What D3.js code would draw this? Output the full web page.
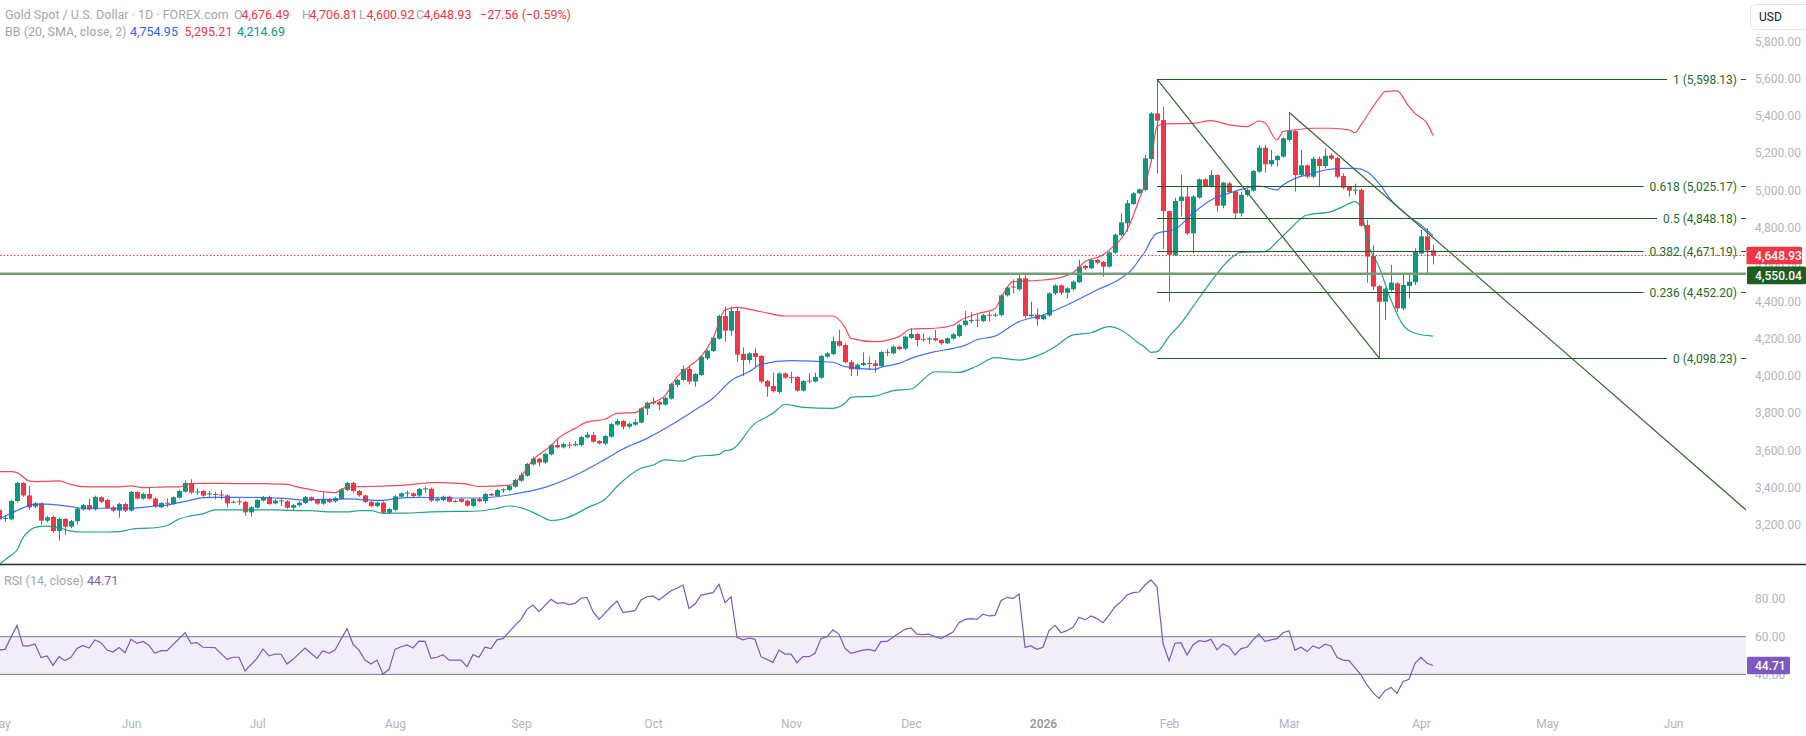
<!DOCTYPE html>
<html>
<head>
<meta charset="utf-8">
<script src="https://cdn.jsdelivr.net/npm/d3@7"></script>
<style>
  body { margin: 0; background: #fff; }
  svg { display: block; font-family: Roboto, "Noto Sans", sans-serif; }
</style>
</head>
<body>
<svg id="chart" width="1806" height="736"></svg>
<script>
// daily candles, bar 0 = 1 May 2025 ... bar 239 = last bar (Apr 2026)
const opens = [3279,3232,3228,3327,3424,3357,3297,3314,3221,3241,3165,3230,3189,3218,3282,3305,3282,3347,3332,3293,
3275,3311,3275,3375,3340,3365,3340,3293,3318,3311,3345,3377,3424,3375,3381,3365,3365,3362,3357,3320,
3325,3322,3266,3291,3329,3349,3314,3330,3325,3291,3304,3316,3347,3336,3313,3336,3325,3339,3386,3424,
3381,3357,3323,3300,3318,3264,3279,3350,3370,3368,3356,3393,3393,3329,3332,3350,3327,3338,3329,3300,
3338,3327,3365,3354,3386,3386,3404,3436,3463,3524,3555,3534,3578,3628,3616,3630,3627,3628,3669,3682,
3650,3636,3673,3738,3758,3727,3738,3749,3824,3853,3860,3846,3878,3952,3979,4038,3970,4005,4095,4134,
4201,4323,4244,4350,4119,4086,4124,4108,3973,3946,3914,4014,3995,3995,3921,3975,3970,3991,4104,4118,
4188,4167,4075,4036,4059,4070,4068,4054,4130,4122,4158,4147,4205,4226,4198,4196,4203,4194,4176,4201,
4216,4275,4295,4303,4296,4330,4326,4328,4434,4482,4467,4526,4322,4330,4306,4326,4445,4488,4449,4468,
4505,4593,4580,4625,4614,4589,4664,4759,4822,4926,4984,5002,5168,5414,5378,4888,4652,4942,4966,4768,
4960,5059,5019,5082,4917,5037,4993,4876,4975,4998,5100,5229,5140,5163,5181,5271,5319,5082,5134,5073,
5170,5131,5188,5174,5077,5019,5000,5002,4813,4646,4484,4400,4463,4499,4364,4485,4505,4660,4752,4676.49];
const highs = [3285,3252,3332,3430,3428,3408,3322,3320,3246,3250,3236,3236,3226,3292,3312,3338,3356,3352,3338,3300,
3318,3318,3381,3380,3372,3397,3346,3322,3340,3352,3388,3438,3444,3395,3386,3381,3377,3384,3362,3330,
3341,3328,3298,3338,3354,3356,3336,3340,3331,3312,3325,3354,3352,3340,3372,3342,3350,3396,3430,3431,
3386,3362,3328,3324,3324,3290,3358,3374,3383,3374,3398,3404,3400,3344,3356,3356,3334,3344,3334,3344,
3344,3370,3370,3392,3395,3414,3446,3480,3532,3566,3560,3586,3634,3664,3642,3645,3650,3677,3698,3698,
3655,3682,3746,3770,3763,3750,3770,3831,3862,3885,3868,3889,3963,3985,4056,4050,4016,4110,4141,4212,
4330,4373,4373,4368,4154,4128,4149,4113,3979,4018,4020,4020,4023,4000,3979,4014,4018,4113,4128,4212,
4248,4176,4086,4068,4127,4104,4086,4136,4144,4165,4163,4218,4257,4232,4230,4212,4248,4198,4208,4232,
4282,4350,4343,4337,4335,4346,4340,4440,4482,4520,4544,4544,4400,4364,4332,4451,4494,4494,4478,4514,
4625,4600,4630,4630,4620,4672,4768,4876,4948,4990,5010,5190,5420,5598,5450,4890,4960,5084,5019,4975,
5064,5064,5109,5086,5046,5046,4998,4993,5010,5109,5244,5244,5217,5190,5285,5420,5325,5217,5140,5181,
5181,5226,5199,5181,5091,5023,5037,5010,4840,4705,4490,4476,4598,4505,4553,4553,4687,4786,4795,4706.81];
const lows = [3220,3216,3222,3318,3350,3279,3290,3198,3212,3155,3113,3146,3180,3200,3276,3275,3276,3316,3284,3268,
3237,3268,3270,3335,3334,3334,3290,3288,3293,3305,3340,3372,3366,3359,3350,3345,3336,3336,3293,3314,
3305,3248,3244,3286,3324,3306,3308,3300,3285,3275,3298,3310,3326,3306,3306,3316,3318,3334,3380,3372,
3350,3316,3294,3294,3258,3256,3274,3344,3345,3348,3350,3372,3322,3324,3326,3318,3318,3318,3296,3295,
3320,3314,3352,3348,3372,3380,3398,3430,3458,3518,3512,3528,3572,3610,3610,3610,3620,3622,3664,3640,
3632,3628,3668,3732,3712,3718,3732,3745,3790,3845,3815,3840,3872,3940,3972,3955,3943,4000,4086,4128,
4196,4185,4217,4077,4000,4068,4050,3960,3889,3910,3905,3985,3961,3916,3916,3961,3965,3985,4098,4113,
4158,4068,4000,4000,4054,4032,4018,4048,4108,4116,4140,4140,4200,4158,4185,4172,4185,4167,4172,4196,
4210,4266,4284,4262,4290,4293,4318,4322,4428,4445,4460,4310,4315,4270,4300,4320,4436,4436,4418,4460,
4500,4571,4575,4600,4535,4583,4658,4752,4777,4921,4978,4996,5154,5091,4682,4400,4646,4858,4759,4660,
4955,5019,5014,4885,4903,4984,4849,4858,4966,4993,5095,5095,5127,5127,5176,5262,4993,5077,5064,5064,
5019,5118,5163,5064,5005,4966,4975,4804,4503,4463,4098.23,4302,4455,4346,4355,4418,4490,4655,4553,4600.92];
const closes = [3228,3236,3327,3424,3357,3293,3314,3221,3239,3165,3230,3189,3219,3286,3305,3282,3349,3323,3290,3275,
3311,3275,3375,3340,3365,3340,3297,3316,3314,3347,3381,3424,3372,3378,3356,3368,3362,3358,3314,3323,
3322,3266,3293,3332,3347,3311,3329,3327,3291,3305,3318,3348,3332,3313,3336,3322,3343,3390,3424,3381,
3357,3322,3300,3318,3264,3284,3352,3368,3372,3354,3392,3395,3329,3338,3350,3323,3325,3323,3302,3338,
3325,3365,3357,3386,3390,3408,3440,3467,3526,3555,3534,3580,3628,3616,3634,3626,3634,3671,3684,3646,
3637,3677,3741,3758,3727,3743,3752,3826,3856,3860,3846,3882,3957,3979,4038,3970,4011,4104,4136,4206,
4323,4244,4350,4115,4086,4122,4102,3970,3943,3918,4014,3991,3992,3921,3973,3970,3995,4108,4122,4188,
4163,4074,4036,4061,4070,4066,4054,4129,4128,4158,4145,4212,4226,4194,4194,4203,4192,4176,4203,4225,
4275,4298,4302,4299,4328,4326,4330,4434,4476,4478,4526,4323,4330,4306,4326,4445,4488,4449,4472,4508,
4589,4580,4625,4610,4589,4666,4761,4827,4930,4984,5005,5172,5414,5375,4888,4652,4942,4966,4768,4966,
5059,5023,5082,4917,5041,4989,4876,4975,5002,5104,5229,5140,5163,5185,5280,5319,5082,5134,5073,5170,
5131,5186,5170,5073,5014,4998,5003,4809,4643,4481,4400,4470,4503,4364,4490,4508,4667,4752,4676.49,4648.93];

// Bollinger Bands (20, SMA, close, 2): [bar, price]
const bbUpper = [[0,3485],[2,3485],[3,3480],[5,3435],[6,3431],[8,3433],[10,3435],[12,3415],[14,3404],[16,3403],[18,3403],[20,3403],[22,3408],[24,3399],[26,3401],[28,3403],[30,3403],[32,3420],[34,3422],[36,3422],[38,3422],[40,3420],[42,3420],[44,3420],[46,3418],[48,3416],[50,3400],[52,3388],[54,3377],[56,3372],[58,3402],[60,3404],[62,3405],[64,3407],[66,3410],[68,3414],[70,3420],[72,3426],[74,3426],[76,3423],[78,3418],[80,3405],[85,3411],[87,3458],[89,3548],[92,3625],[93,3659],[96,3718],[98,3752],[101,3767],[103,3799],[106,3803],[108,3844],[111,3894],[113,3995],[115,4050],[117,4104],[119,4203],[121,4355],[123,4370],[127,4346],[131,4323],[135,4323],[139,4323],[141,4262],[142,4203],[146,4185],[150,4212],[152,4253],[156,4257],[159,4273],[160,4295],[163,4335],[166,4362],[167,4420],[169,4508],[174,4517],[177,4531],[179,4556],[181,4616],[184,4652],[185,4678],[188,4786],[190,4948],[192,5150],[193,5343],[194,5357],[199,5360],[202,5375],[205,5352],[208,5343],[210,5373],[211,5364],[213,5271],[214,5316],[216,5325],[219,5334],[222,5334],[225,5325],[226,5310],[227,5352],[230,5495],[231,5531],[233,5535],[235,5450],[236,5414],[238,5360],[239,5295.21]];
const bbBasis = [[0,3230],[2,3261],[4,3290],[6,3310],[8,3310],[10,3305],[12,3297],[14,3288],[18,3288],[22,3288],[24,3293],[26,3300],[28,3305],[30,3318],[32,3332],[34,3345],[36,3347],[40,3347],[44,3345],[46,3343],[48,3340],[50,3333],[52,3332],[54,3336],[56,3336],[58,3338],[60,3336],[62,3332],[64,3330],[66,3340],[68,3345],[70,3347],[72,3345],[76,3343],[80,3343],[86,3365],[91,3400],[97,3480],[101,3551],[104,3607],[108,3664],[112,3736],[116,3817],[119,3880],[122,3975],[125,4023],[127,4063],[132,4083],[139,4074],[141,4050],[146,4036],[147,4047],[150,4068],[152,4095],[156,4131],[159,4149],[161,4165],[163,4195],[166,4215],[170,4293],[174,4328],[178,4382],[183,4463],[187,4526],[189,4580],[190,4625],[191,4669],[192,4732],[193,4768],[196,4790],[199,4876],[202,4948],[205,4984],[207,5005],[210,5023],[213,5002],[214,5028],[216,5064],[219,5091],[221,5109],[224,5118],[226,5118],[228,5100],[230,5037],[232,4948],[235,4858],[237,4813],[239,4754.95]];
const bbLower = [[0,2985],[1,3010],[2,3035],[3,3063],[4,3130],[5,3165],[6,3185],[8,3192],[10,3183],[12,3165],[14,3160],[18,3160],[20,3162],[22,3175],[24,3180],[26,3183],[28,3195],[30,3230],[32,3247],[34,3258],[36,3279],[46,3279],[48,3277],[50,3275],[52,3275],[54,3270],[56,3268],[58,3268],[60,3275],[62,3275],[64,3260],[66,3262],[68,3262],[70,3265],[72,3268],[74,3270],[76,3271],[78,3271],[80,3273],[83,3287],[85,3300],[88,3280],[90,3250],[92,3222],[94,3230],[96,3255],[98,3290],[101,3336],[103,3405],[107,3503],[109,3521],[111,3548],[114,3542],[116,3566],[120,3578],[121,3598],[122,3602],[126,3745],[128,3781],[129,3799],[131,3848],[134,3831],[139,3826],[141,3853],[142,3885],[146,3892],[149,3921],[152,3930],[156,4023],[160,4020],[163,4054],[166,4099],[170,4086],[174,4122],[176,4158],[179,4221],[182,4233],[185,4266],[187,4248],[190,4176],[191,4154],[192,4127],[193,4131],[195,4212],[197,4284],[199,4373],[202,4508],[205,4625],[207,4666],[211,4670],[213,4723],[215,4786],[218,4867],[222,4885],[224,4912],[226,4939],[227,4903],[228,4732],[230,4589],[232,4409],[234,4275],[236,4230],[239,4214.69]];

// RSI (14, close): [bar, value]
const rsiPts = [[0,52.9],[1,53.3],[3,66.0],[4,55.1],[5,55.1],[6,56.1],[7,48.9],[8,49.8],[9,44.8],[10,49.4],[11,47.3],[12,49.1],[13,53.8],[14,55.4],[15,54.0],[16,58.3],[17,56.8],[18,52.9],[19,51.9],[20,54.2],[21,51.5],[22,58.6],[23,56.5],[24,57.5],[25,55.4],[26,51.2],[27,52.6],[28,52.6],[31,62.1],[32,56.5],[33,56.8],[34,54.4],[36,54.2],[38,48.0],[39,49.1],[40,49.1],[41,41.8],[43,48.5],[44,53.5],[45,49.8],[46,50.8],[47,50.7],[48,45.5],[49,48.0],[51,54.0],[52,51.2],[53,48.5],[54,52.6],[55,51.2],[56,52.9],[58,64.3],[59,56.1],[60,52.9],[61,47.6],[62,45.5],[63,47.6],[64,40.2],[65,42.7],[66,53.3],[67,54.7],[68,55.6],[69,54.0],[70,57.7],[71,57.5],[72,48.5],[73,49.1],[74,50.5],[75,47.6],[77,47.6],[78,44.1],[79,50.5],[80,49.1],[81,54.4],[82,53.7],[83,58.3],[84,59.0],[86,66.0],[87,69.2],[88,74.5],[89,76.8],[90,73.3],[92,79.8],[93,77.7],[94,78.1],[95,77.0],[96,77.7],[97,80.4],[98,80.9],[99,73.3],[100,69.2],[102,75.9],[103,78.9],[104,72.8],[106,73.8],[107,79.5],[108,81.2],[109,81.6],[110,79.5],[112,84.4],[113,85.7],[114,87.4],[115,75.0],[116,77.3],[117,82.1],[119,83.4],[120,87.8],[121,78.1],[122,81.2],[123,59.7],[124,58.3],[125,59.3],[126,58.6],[127,49.4],[129,46.4],[130,52.9],[131,50.8],[132,50.8],[133,46.2],[134,49.4],[135,49.4],[136,51.2],[137,59.1],[138,60.0],[139,63.6],[140,61.4],[141,53.8],[142,51.2],[144,52.9],[145,53.3],[146,52.4],[147,57.4],[148,57.5],[149,59.7],
[151,63.9],[152,64.6],[153,61.4],[154,61.1],[155,61.4],[156,60.0],[157,59.0],[158,60.7],[159,62.5],[160,67.4],[161,69.2],[162,69.6],[163,69.2],[164,72.0],[165,71.0],[166,71.3],[167,79.1],[168,80.9],[169,80.2],[170,82.7],[171,54.4],[172,55.1],[173,53.3],[174,54.4],[175,63.2],[176,66.0],[177,62.1],[178,63.2],[179,65.0],[180,70.3],[181,68.9],[182,71.0],[183,69.6],[184,67.4],[185,71.5],[186,75.9],[187,78.6],[188,82.1],[189,83.4],[190,83.7],[191,87.4],[192,90.1],[193,86.5],[194,56.5],[195,47.3],[196,56.5],[197,56.8],[198,50.3],[199,55.6],[200,57.9],[201,57.4],[202,58.6],[203,53.0],[204,56.1],[205,54.7],[206,50.3],[207,53.7],[208,54.4],[209,58.3],[210,61.4],[211,57.5],[212,58.3],[213,59.0],[214,62.1],[215,63.2],[216,52.9],[217,54.4],[218,52.1],[219,55.1],[220,53.8],[221,56.0],[222,55.1],[223,49.1],[224,47.6],[225,47.3],[227,39.7],[228,34.4],[229,30.3],[230,27.3],[231,31.4],[232,33.1],[233,30.0],[234,36.2],[235,37.4],[236,45.9],[237,49.1],[238,45.9],[239,44.71]];

const priceTicks = [3200,3400,3600,3800,4000,4200,4400,4600,4800,5000,5200,5400,5600,5800];
const rsiTicks = [40,60,80];
const monthIdx = [0,22,43,66,87,109,132,152,174,195,215,237,258,279];
const monthLabels = ["May","Jun","Jul","Aug","Sep","Oct","Nov","Dec","2026","Feb","Mar","Apr","May","Jun"];

// drawings
const fibStart = 193;
const fibRatios = ["1","0.618","0.5","0.382","0.236","0"];
const fibPrices = [5598.13,5025.17,4848.18,4671.19,4452.20,4098.23];
const trendA = [[193,5598.13],[230,4098.23]];
const trendB = [[215,5420],[291.2,3278]];
const hLevel = 4550.04;
const lastClose = 4648.93, lastRsi = 44.71;

const GREEN = "#089981", RED = "#f23645", BLUE = "#2962ff", FIB = "#1b5e20";
const AXIS = "#b2b5be";
const W = 1806, H = 736, plotR = 1746, paneB = 564;

const svg = d3.select("#chart");
svg.append("rect").attr("width", W).attr("height", H).attr("fill", "#fff");

const x = d3.scaleLinear().domain([0, 291]).range([-1, 1745]);
const y = d3.scaleLinear().domain([4000, 5800]).range([376, 41.7]);
const yR = d3.scaleLinear().domain([40, 60]).range([674.4, 636.7]);

const defs = svg.append("defs");
defs.append("clipPath").attr("id", "cMain").append("rect").attr("x", 0).attr("y", 0).attr("width", plotR).attr("height", paneB);
defs.append("clipPath").attr("id", "cRsi").append("rect").attr("x", 0).attr("y", paneB + 1).attr("width", plotR).attr("height", H - paneB);

const main = svg.append("g").attr("clip-path", "url(#cMain)");
const bars = d3.range(closes.length);
const col = i => closes[i] >= opens[i] ? GREEN : RED;

main.selectAll("line.wick").data(bars).join("line").attr("class", "wick")
  .attr("x1", i => Math.round(x(i)) + 0.5).attr("x2", i => Math.round(x(i)) + 0.5)
  .attr("y1", i => y(highs[i])).attr("y2", i => y(lows[i]))
  .attr("stroke", col).attr("stroke-width", 1);
main.selectAll("rect.body").data(bars).join("rect").attr("class", "body")
  .attr("x", i => Math.round(x(i)) - 2).attr("width", 5)
  .attr("y", i => y(Math.max(opens[i], closes[i])))
  .attr("height", i => Math.max(1, Math.abs(y(opens[i]) - y(closes[i]))))
  .attr("fill", col);

const bbLine = d3.line().x(d => x(d[0])).y(d => y(d[1])).curve(d3.curveMonotoneX);
[[bbUpper, RED], [bbBasis, BLUE], [bbLower, GREEN]].forEach(([d, c]) => {
  main.append("path").attr("d", bbLine(d)).attr("fill", "none").attr("stroke", c).attr("stroke-width", 1.2).attr("stroke-opacity", 0.9);
});

// last price line
main.append("line").attr("x1", 0).attr("x2", plotR).attr("y1", y(lastClose)).attr("y2", y(lastClose))
  .attr("stroke", RED).attr("stroke-width", 1).attr("stroke-dasharray", "1.5 2");

// fib retracement
fibPrices.forEach((p, k) => {
  const yy = Math.round(y(p)) + 0.5;
  const t = main.append("text").attr("x", 1737).attr("y", yy).attr("dy", "0.35em")
    .attr("text-anchor", "end").attr("font-size", 12).attr("fill", "#226a28")
    .text(fibRatios[k] + " (" + d3.format(",.2f")(p) + ")");
  const w = t.node().getComputedTextLength();
  main.append("line").attr("x1", x(fibStart)).attr("x2", 1737 - w - 6).attr("y1", yy).attr("y2", yy)
    .attr("stroke", FIB).attr("stroke-width", 1);
  main.append("line").attr("x1", 1741).attr("x2", plotR).attr("y1", yy).attr("y2", yy)
    .attr("stroke", FIB).attr("stroke-width", 1);
});

[trendA, trendB].forEach(t => {
  main.append("line").attr("x1", x(t[0][0])).attr("y1", y(t[0][1]))
    .attr("x2", x(t[1][0])).attr("y2", y(t[1][1]))
    .attr("stroke", "#2f6b33").attr("stroke-width", 1.2);
});

main.append("line").attr("x1", 0).attr("x2", plotR).attr("y1", y(hLevel)).attr("y2", y(hLevel))
  .attr("stroke", "#729d77").attr("stroke-width", 2.5);

// RSI pane
const rp = svg.append("g").attr("clip-path", "url(#cRsi)");
rp.append("rect").attr("x", 0).attr("width", plotR).attr("y", yR(60)).attr("height", yR(40) - yR(60))
  .attr("fill", "#7e57c2").attr("fill-opacity", 0.1);
[60, 40].forEach(v => rp.append("line").attr("x1", 0).attr("x2", plotR).attr("y1", yR(v)).attr("y2", yR(v))
  .attr("stroke", "#787b86").attr("stroke-width", 1));
rp.append("path").attr("d", d3.line().x(d => x(d[0])).y(d => yR(d[1]))(rsiPts))
  .attr("fill", "none").attr("stroke", "#7e57c2").attr("stroke-width", 1.2);

// separator
svg.append("line").attr("x1", 0).attr("x2", W).attr("y1", paneB + 0.5).attr("y2", paneB + 0.5)
  .attr("stroke", "#2a2e39").attr("stroke-width", 1.3);

// axes
function styleAxis(g) {
  g.select(".domain").remove();
  g.selectAll("text").attr("fill", AXIS).attr("font-size", 12).attr("font-family", "Roboto, sans-serif");
}
svg.append("g").attr("transform", "translate(1755,0)")
  .call(d3.axisRight(y).tickValues(priceTicks).tickFormat(d3.format(",.2f")).tickSize(0).tickPadding(0))
  .call(styleAxis);
svg.append("g").attr("transform", "translate(1755,0)")
  .call(d3.axisRight(yR).tickValues(rsiTicks).tickFormat(d3.format(".2f")).tickSize(0).tickPadding(0))
  .call(styleAxis);
const xa = svg.append("g").attr("transform", "translate(0,719.5)")
  .call(d3.axisBottom(x).tickValues(monthIdx).tickFormat((d, k) => monthLabels[k]).tickSize(0).tickPadding(0))
  .call(styleAxis);
xa.selectAll("text").filter(d => d === 174).attr("font-weight", 600).attr("fill", "#9598a1");

// value tags on the scale
function tag(yy, txt, fill, x0, w) {
  svg.append("rect").attr("x", x0).attr("y", yy - 8.8).attr("width", w).attr("height", 17.6).attr("fill", fill).attr("rx", 1.5);
  svg.append("text").attr("x", 1755).attr("y", yy).attr("dy", "0.35em").attr("fill", "#fff")
    .attr("font-size", 12).attr("font-weight", 500).text(txt);
}
tag(y(lastClose), d3.format(",.2f")(lastClose), RED, 1746.5, 55.5);
tag(y(hLevel) + 1.5, d3.format(",.2f")(hLevel), FIB, 1747, 59);
tag(yR(lastRsi), d3.format(".2f")(lastRsi), "#7e57c2", 1747, 43);

// USD box
svg.append("rect").attr("x", 1750.5).attr("y", 4.5).attr("width", 60).attr("height", 25).attr("rx", 5)
  .attr("fill", "#fff").attr("stroke", "#e0e3eb");
svg.append("text").attr("x", 1759).attr("y", 17).attr("dy", "0.35em").attr("font-size", 12).attr("fill", "#131722").text("USD");

// legend
const fmt = d3.format(",.2f");
function seg(xx, yy, txt, fill) {
  svg.append("text").attr("x", xx).attr("y", yy).attr("font-size", 12.5).attr("fill", fill).text(txt);
}
const GREY = "#a3a6af";
seg(5, 19, "Gold Spot / U.S. Dollar \u00b7 1D \u00b7 FOREX.com", GREY);
const ohlc = [["O", opens[239], 234], ["H", highs[239], 302], ["L", lows[239], 359], ["C", closes[239], 416]];
ohlc.forEach(([k, v, xx]) => { seg(xx, 19, k, GREY); seg(xx + 7.5, 19, fmt(v), RED); });
const chg = closes[239] - closes[238];
const pct = chg / closes[238] * 100;
seg(480, 19, "\u2212" + fmt(Math.abs(chg)) + " (\u2212" + Math.abs(pct).toFixed(2) + "%)", RED);
seg(5, 36, "BB (20, SMA, close, 2)", GREY);
seg(130, 36, fmt(bbBasis[bbBasis.length - 1][1]), BLUE);
seg(184.5, 36, fmt(bbUpper[bbUpper.length - 1][1]), RED);
seg(237, 36, fmt(bbLower[bbLower.length - 1][1]), GREEN);
seg(4, 585, "RSI (14, close)", GREY);
seg(87, 585, fmt(lastRsi), "#7e57c2");
</script>
</body>
</html>
